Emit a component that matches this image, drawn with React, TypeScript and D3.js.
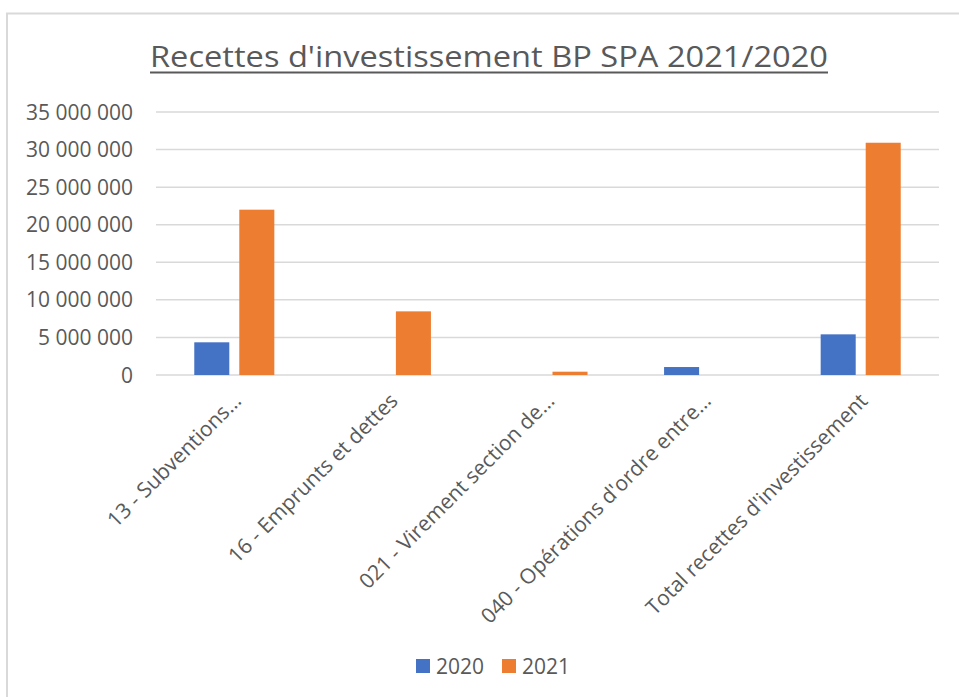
import React from "react";
import * as d3 from "d3";

const categories = [
  "13 - Subventions…",
  "16 - Emprunts et dettes",
  "021 - Virement section de…",
  "040 - Opérations d'ordre entre…",
  "Total recettes d'investissement",
];
const seriesNames = ["2020", "2021"];
const values2020 = [4350000, 0, 0, 1060000, 5410000];
const values2021 = [22000000, 8470000, 440000, 0, 30910000];
const yTicks = [0, 5000000, 10000000, 15000000, 20000000, 25000000, 30000000, 35000000];
const colors = ["#4472C4", "#ED7D31"];

const W = 959;
const H = 697;
const plot = { left: 156, right: 939, top: 112, bottom: 375 };
const font = "'Open Sans', sans-serif";
const textColor = "#595959";

const fmt = (v: number) => d3.format(",")(v).replace(/,/g, " ");

export default function App() {
  const x0 = d3.scaleBand<string>().domain(categories).range([plot.left, plot.right]).paddingInner(0).paddingOuter(0);
  const x1 = d3.scaleBand<string>().domain(seriesNames).range([0, x0.bandwidth()]).paddingInner(0.222).paddingOuter(0.85);
  const y = d3.scaleLinear().domain([0, 35000000]).range([plot.bottom, plot.top]);
  const series = [values2020, values2021];

  return (
    <svg width={W} height={H} style={{ position: "absolute", left: 0, top: 0, background: "#fff" }}>
      <rect x={7} y={13.5} width={W + 10} height={H + 10} fill="#fff" stroke="#D9D9D9" strokeWidth={2} />
      <text x={150} y={67} textLength={678} lengthAdjust="spacingAndGlyphs" fontFamily={font} fontSize={30} fill={textColor}>
        Recettes d'investissement BP SPA 2021/2020
      </text>
      <line x1={150} x2={828} y1={72.5} y2={72.5} stroke={textColor} strokeWidth={2} />
      {yTicks.map((t) => (
        <g key={t}>
          <line x1={plot.left} x2={plot.right} y1={y(t)} y2={y(t)} stroke="#D9D9D9" strokeWidth={1.5} />
          <text x={133} y={y(t)} dy="0.36em" textAnchor="end" fontFamily={font} fontSize={21} fill={textColor}>
            {fmt(t)}
          </text>
        </g>
      ))}
      {categories.map((c, i) => (
        <g key={c}>
          {series.map((s, j) =>
            s[i] > 0 ? (
              <rect
                key={j}
                x={(x0(c) as number) + (x1(seriesNames[j]) as number)}
                y={y(s[i])}
                width={x1.bandwidth()}
                height={y(0) - y(s[i])}
                fill={colors[j]}
              />
            ) : null
          )}
          <text
            transform={`translate(${(x0(c) as number) + x0.bandwidth() / 2 + 3},${plot.bottom + 22}) rotate(-45)`}
            textAnchor="end"
            dy="0.35em"
            fontFamily={font}
            fontSize={21}
            fill={textColor}
          >
            {c}
          </text>
        </g>
      ))}
      {seriesNames.map((n, j) => (
        <g key={n} transform={`translate(${416 + j * 86},659)`}>
          <rect width={14} height={14} fill={colors[j]} />
          <text x={20} y={7} dy="0.36em" fontFamily={font} fontSize={21} fill={textColor}>
            {n}
          </text>
        </g>
      ))}
    </svg>
  );
}
